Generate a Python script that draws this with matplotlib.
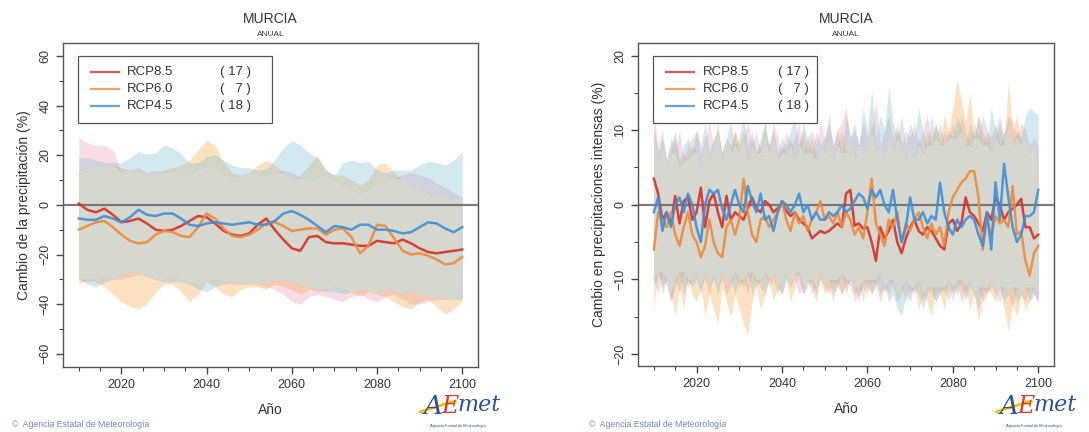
import matplotlib
matplotlib.use("Agg")
import numpy as np
import matplotlib.pyplot as plt
from matplotlib.patches import Rectangle
from matplotlib.lines import Line2D

plt.rcParams['font.family'] = ['Liberation Sans', 'DejaVu Sans']

# ---------------- data ----------------
scenarios = ["RCP8.5", "RCP6.0", "RCP4.5"]
n_models = [17, 7, 18]

# left panel: smoothed annual precipitation change (%), every 2 years
years_l = list(range(2010, 2101, 2))

prec_mean_85 = [0.5, -2, -3, -1.5, -4, -7, -6.5, -5.5, -7.5, -10, -10.5, -10, -8.5, -6.5, -4.5, -5,
                -7.5, -10.5, -12, -12.5, -11.5, -8, -5.5, -10, -14, -17.5, -18.5, -13, -12.5, -15,
                -15.5, -15.5, -16, -16.5, -16.5, -14.5, -15, -15.5, -14, -15.5, -17.5, -19, -19.5,
                -19, -18.5, -18]
prec_mean_60 = [-10, -8.5, -7, -6.5, -9, -12, -14.5, -15.5, -15, -12, -10.5, -11, -12.5, -13, -9,
                -3.5, -5.5, -9.5, -12.5, -13, -12, -10, -7.5, -7, -8.5, -10.5, -10, -9.5, -9.5, -12,
                -10, -9.5, -13, -19.5, -16.5, -8, -8.5, -13.5, -18.5, -20, -19.5, -20.5, -22, -24,
                -23.5, -21]
prec_mean_45 = [-5.5, -6, -6, -4.5, -5.5, -7, -5, -2, -4, -4.5, -3.5, -3.5, -5.5, -8, -8.5, -7.5,
                -7, -7.5, -8, -7.5, -7, -8, -8, -6.5, -3.5, -2.5, -4, -6, -8.5, -11, -8.5, -9, -10,
                -8, -8, -10, -10, -10.5, -11.5, -11, -9, -7, -7.5, -9.5, -11, -9]

prec_hi_85 = [27, 25, 24, 24, 22, 13, 14, 15, 13, 14, 13, 14, 12, 12, 14, 16, 14, 12, 11, 12, 13,
              12, 12, 13, 14, 13, 11, 10, 11, 12, 10, 8, 6, 5, 6, 8, 10, 11, 12, 13, 12, 11, 9, 7,
              5, 3]
prec_hi_60 = [14, 15, 16, 16, 16, 15, 14, 13, 12, 13, 14, 15, 16, 18, 22, 26, 24, 17, 13, 12, 13,
              16, 18, 16, 13, 10, 12, 16, 20, 14, 12, 12, 10, 8, 10, 16, 17, 13, 10, 8, 6, 5, 4, 3,
              2, 3]
prec_hi_45 = [19, 19, 18, 17, 17, 17, 19, 21.5, 20.5, 21, 24, 23, 20.5, 17, 17, 19.5, 20, 18, 16,
              15, 15, 14, 14.5, 18, 23, 26, 24, 21, 19, 14, 12, 17, 18, 17, 17.5, 14, 13, 14, 14,
              14, 16, 17.5, 17, 16, 18, 21.5]

prec_lo_85 = [-30, -31, -30, -29, -30, -30, -29, -28, -29, -30, -30, -29, -30, -31, -32, -31, -30,
              -31, -32, -32, -32, -32, -33, -34, -36, -39, -40, -37, -36, -37, -38, -39, -37, -36,
              -38, -39, -37, -36, -38, -40, -40, -39, -38, -38, -38, -37]
prec_lo_60 = [-32, -30, -31, -33, -36, -39, -41, -42, -40, -35, -32, -32, -35, -39, -36, -31, -33,
              -36, -37, -34, -33, -33, -34, -32, -33, -34, -36, -34, -35, -34, -33, -34, -35, -37,
              -35, -36, -37, -39, -41, -42, -39, -38, -41, -44, -42, -39]
prec_lo_45 = [-30, -32, -33, -31, -30, -28, -27, -27, -29, -30, -31, -31, -31, -32, -34, -35, -33,
              -32, -31, -31, -32, -31, -32, -30, -30, -31, -32, -33, -34, -35, -35, -36, -35, -34,
              -35, -35, -34, -35, -36, -35, -36, -37, -37, -38, -38, -38]

# right panel: change in intense precipitation (%), annual
years_r = list(range(2010, 2101))

int_mean_85 = [3.5, 1.5, -2.0, -1.0, -2.5, 1.2, -2.5, 0.5, 1.0, -2.0,
               -1.0, 2.3, -3.0, 0.5, 1.5, -1.0, -3.0, 1.2, -2.0, -1.0,
               -1.5, -2.0, -0.5, 1.0, -0.5, -1.0, 0.5, 0.0, -1.0, -0.5,
               0.2, -0.8, -1.5, -1.0, -2.0, -2.5, -3.0, -4.5, -4.0, -3.5,
               -3.8, -3.5, -3.0, -2.5, -3.0, 1.5, 2.0, -2.8, -2.5, -3.2,
               -3.0, -5.0, -7.5, -3.0, -4.5, -3.5, -2.0, -5.0, -6.5, -4.5,
               -3.0, -2.0, -3.5, -4.0, -3.0, -3.5, -4.5, -5.5, -6.0, -2.5,
               -2.0, -3.5, -2.5, 1.0, -1.0, -1.5, -2.5, -3.5, -1.0, -2.0,
               1.0, 0.0, -2.0, -1.0, -0.5, 0.0, 0.8, -3.0, -3.0, -4.5, -4.0]
int_mean_60 = [-6, -1, -2, -3, -1, -4, -5.5, -3, -1, -4,
               -5, -7, -5.5, -2, -5, -6.5, -7, -3, -2, -4,
               -2, 3.5, -1, -4, -5, -2, -1.5, -3, -2, -1,
               0.5, -2, -3.5, -1, -2.5, -1.5, -3.5, -2, -1, 0.5,
               -2, -1.5, -2.5, -1, -3, -1, -2, -4, -3, -4.5,
               -1, 3.5, -2.5, -4, -5.5, -2, -3, -1, -5, -2.5,
               -3.5, -2, -1, -3, -4.5, -2.5, -4, -3, -5.5, -1,
               1, 2, 3, 3.5, 4.5, 4.5, 1, -6, -2, -4,
               -1.5, -2.5, -2, -3, 2.5, -4, -3.5, -7.5, -9.5, -6.5, -5.5]
int_mean_45 = [-1, 1, -3.5, -1, -3, 0, 1, -1, 1.5, 0,
               -3, -5, 0, 2, 1.5, 2, -0.5, -2, 0, 2,
               0, -1, 2.5, 0.5, -1, 1.5, -2, -1.5, -3.5, -1,
               0.5, 0, -1, 0, 1.5, -1, 0, -2, -1, -2,
               -2, -1, -1.5, -1, 0, -1, -0.5, 0.5, 1.5, 1,
               -0.5, 2, 1, 2, 0, -1, 2, -2, -5, -3,
               1, -2, -2, -1, -2.5, -1.5, -2, 3, -1, -3,
               -4, -2, -3, -2, -1.5, -2, -4, -5.5, -1, -6,
               3, -2, 5.5, 1, -3, -5, -4, -1.5, -1.5, -1, 2]

int_hi_85 = [12, 8, 10, 6, 9, 7, 10, 6, 8, 9,
             10, 7, 9, 11, 8, 10, 7, 9, 8, 10,
             7, 9, 11, 8, 10, 7, 9, 8, 11, 9,
             7, 10, 8, 9, 11, 7, 9, 10, 8, 11,
             9, 12, 8, 10, 11, 13, 9, 10, 8, 11,
             9, 10, 14, 8, 10, 12, 9, 11, 8, 10,
             9, 11, 8, 10, 12, 9, 11, 8, 10, 9,
             11, 9, 12, 10, 8, 11, 9, 12, 10, 9,
             11, 8, 10, 12, 11, 9, 11, 10, 8, 9, 8]
int_hi_60 = [11, 6, 8, 5, 7, 9, 5, 7, 6, 8,
             7, 5, 9, 6, 8, 11, 6, 9, 7, 10,
             8, 10, 6, 9, 7, 8, 11, 7, 9, 6,
             8, 7, 9, 6, 8, 10, 7, 9, 6, 8,
             7, 9, 6, 8, 10, 7, 9, 6, 8, 7,
             9, 11, 7, 8, 6, 9, 7, 10, 8, 6,
             8, 6, 9, 7, 10, 8, 11, 9, 12, 10,
             13, 16.8, 14, 11, 15, 9, 12, 8, 10, 7,
             9, 11, 8, 16.5, 10, 12, 8, 9, 7, 8, 6]
int_hi_45 = [10, 7, 9, 6, 8, 10, 6, 8, 9, 7,
             10, 8, 11, 7, 9, 10, 7, 9, 11, 8,
             9, 12, 8, 10, 7, 9, 11, 8, 10, 7,
             9, 8, 10, 12, 8, 11, 9, 7, 10, 8,
             9, 11, 8, 10, 7, 12, 9, 11, 8, 13,
             10, 15.5, 9, 12, 10, 15.8, 11, 9, 12, 8,
             11, 9, 13, 10, 8, 12, 9, 11, 8, 10,
             9, 12, 10, 8, 11, 9, 12, 10, 8, 13,
             10, 12, 9, 11, 8, 10, 9, 12, 13, 12.5, 12]

int_lo_85 = [-10, -12, -9, -11, -13, -10, -12, -9, -11, -10,
             -9, -11, -10, -12, -9, -11, -10, -12, -11, -9,
             -11, -10, -12, -9, -11, -10, -9, -11, -10, -12,
             -10, -9, -11, -10, -12, -11, -10, -12, -11, -10,
             -11, -12, -10, -11, -12, -10, -11, -13, -12, -11,
             -12, -10, -11, -13, -11, -12, -10, -12, -11, -13,
             -11, -12, -10, -13, -11, -12, -13, -11, -12, -10,
             -12, -11, -13, -12, -10, -12, -11, -13, -12, -11,
             -12, -13, -11, -12, -14, -11, -12, -13, -11, -12, -13]
int_lo_60 = [-14, -9, -11, -10, -12, -15, -11, -14, -10, -12,
             -13, -11, -15, -12, -14, -16, -11, -13, -15, -12,
             -14, -16, -17.5, -13, -11, -14, -12, -10, -13, -11,
             -12, -10, -13, -11, -9, -12, -10, -11, -13, -10,
             -12, -11, -13, -10, -12, -11, -10, -12, -11, -13,
             -10, -12, -11, -9, -12, -10, -11, -13, -12, -10,
             -12, -11, -14, -12, -13, -15, -11, -12, -14, -11,
             -13, -10, -12, -11, -14, -12, -15.5, -13, -11, -12,
             -13, -11, -14, -17, -13, -15, -12, -14, -13, -11, -12]
int_lo_45 = [-11, -9, -12, -10, -13, -11, -9, -12, -10, -11,
             -10, -12, -9, -11, -10, -12, -9, -11, -10, -12,
             -10, -11, -9, -12, -10, -11, -12, -10, -9, -11,
             -12, -10, -11, -9, -10, -12, -11, -10, -12, -9,
             -11, -10, -12, -11, -9, -12, -10, -11, -13, -10,
             -11, -12, -10, -12, -11, -13, -12, -14, -15, -12,
             -13, -11, -12, -14, -12, -11, -13, -12, -11, -13,
             -11, -12, -10, -13, -11, -12, -14, -11, -12, -10,
             -12, -11, -13, -12, -11, -13, -12, -11, -13, -12, -13]

line_colors = ['#d73027', '#ee8a3c', '#3f8fd6']
band_colors = ['#eb8da9', '#f6a137', '#70b8ce']
BAND_ALPHA = 0.3
OVERLAP = '#d6d8d0'
TXT = '#333333'


def draw_panel(fig, rect, years, means, his, los, ylim, ymaj, ymin_step, ylabel,
               legend_w, count_x):
    ax = fig.add_axes(rect)
    for hi, lo, c in zip(his, los, band_colors):
        ax.fill_between(years, lo, hi, color=c, alpha=BAND_ALPHA, lw=0)
    # zone shared by all three scenarios, drawn in neutral grey
    top = np.min(np.array(his, dtype=float), axis=0)
    bot = np.max(np.array(los, dtype=float), axis=0)
    ax.fill_between(years, bot, top, where=top > bot, interpolate=True,
                    color=OVERLAP, lw=0, zorder=2)
    ax.axhline(0, color='#666666', lw=1.6, alpha=0.85, zorder=3)
    for m, c in zip(means, line_colors):
        ax.plot(years, m, color=c, lw=1.8, alpha=0.9, zorder=4)

    ax.set_xlim(2006.3, 2103.7)
    ax.set_ylim(*ylim)
    ax.set_xticks([2020, 2040, 2060, 2080, 2100])
    ax.set_xticks(range(2010, 2101, 5), minor=True)
    ax.set_yticks(ymaj)
    ax.set_yticks(range(ymaj[0], ymaj[-1] + 1, ymin_step), minor=True)
    ax.tick_params(axis='both', which='major', direction='out', length=5, width=1,
                   color='#444444', labelcolor=TXT, labelsize=9)
    ax.tick_params(axis='both', which='minor', direction='out', length=3, width=0.8,
                   color='#444444')
    for lab in ax.get_yticklabels():
        lab.set_rotation(90)
        lab.set_va('center')
    for s in ax.spines.values():
        s.set_color('#555555')
        s.set_linewidth(1.0)

    ax.set_xlabel('Año', fontsize=10, color=TXT, labelpad=9)
    ax.set_ylabel(ylabel, fontsize=10, color=TXT, labelpad=6)

    # legend box
    ax.add_patch(Rectangle((0.036, 0.753), legend_w, 0.207, transform=ax.transAxes,
                           facecolor='white', edgecolor='#555555', lw=0.9, zorder=6))
    for i, (name, n, c) in enumerate(zip(scenarios, n_models, line_colors)):
        yy = 0.910 - i * 0.052
        ax.add_line(Line2D([0.068, 0.135], [yy, yy], transform=ax.transAxes,
                           color=c, lw=1.6, alpha=0.8, zorder=7))
        ax.text(0.155, yy, name, transform=ax.transAxes, fontsize=9.5, color=TXT,
                va='center', ha='left', zorder=7)
        ax.text(count_x, yy, '( %2d )' % n if n >= 10 else '(   %d )' % n,
                transform=ax.transAxes, fontsize=9.5, color=TXT, va='center',
                ha='center', zorder=7)

    cx = rect[0] + rect[2] / 2
    fig.text(cx, 0.956, 'MURCIA', ha='center', va='center', fontsize=10, color=TXT)
    fig.text(cx, 0.919, 'ANUAL', ha='center', va='center', fontsize=6, color=TXT)
    return ax


def draw_footer(fig, x_copy, x_logo):
    fig.text(x_copy, 0.018, '\u00a9  Agencia Estatal de Meteorología', fontsize=6.3,
             color='#6f86b3', ha='left', va='center')
    fig.text(x_logo, 0.060, 'A', fontsize=19, color='#2c4f9e', style='italic',
             family='DejaVu Serif', ha='left', va='center')
    fig.text(x_logo + 0.017, 0.060, 'E', fontsize=17, color='#d93a2b', style='italic',
             family='DejaVu Serif', ha='left', va='center')
    fig.text(x_logo + 0.032, 0.062, 'met', fontsize=16, color='#2c4f9e', style='italic',
             family='DejaVu Serif', ha='left', va='center')
    fig.add_artist(Line2D([x_logo - 0.002, x_logo + 0.03], [0.047, 0.072],
                          color='#f2c300', lw=2, transform=fig.transFigure))
    fig.text(x_logo + 0.032, 0.015, 'Agencia Estatal de Meteorología', fontsize=2.8,
             color='#2c4f9e', ha='center', va='center')


fig = plt.figure(figsize=(10.89, 4.32), dpi=100)

draw_panel(fig, [0.0579, 0.1505, 0.381, 0.75], years_l,
           [prec_mean_85, prec_mean_60, prec_mean_45],
           [prec_hi_85, prec_hi_60, prec_hi_45],
           [prec_lo_85, prec_lo_60, prec_lo_45],
           (-65.3, 65.2), [-60, -40, -20, 0, 20, 40, 60], 10,
           'Cambio de la precipitación (%)', 0.468, 0.415)

draw_panel(fig, [0.5859, 0.1528, 0.382, 0.748], years_r,
           [int_mean_85, int_mean_60, int_mean_45],
           [int_hi_85, int_hi_60, int_hi_45],
           [int_lo_85, int_lo_60, int_lo_45],
           (-21.6, 21.7), [-20, -10, 0, 10, 20], 5,
           'Cambio en precipitaciones intensas (%)', 0.394, 0.373)

draw_footer(fig, 0.011, 0.388)
draw_footer(fig, 0.541, 0.917)

fig.savefig('out.png', dpi=100)
